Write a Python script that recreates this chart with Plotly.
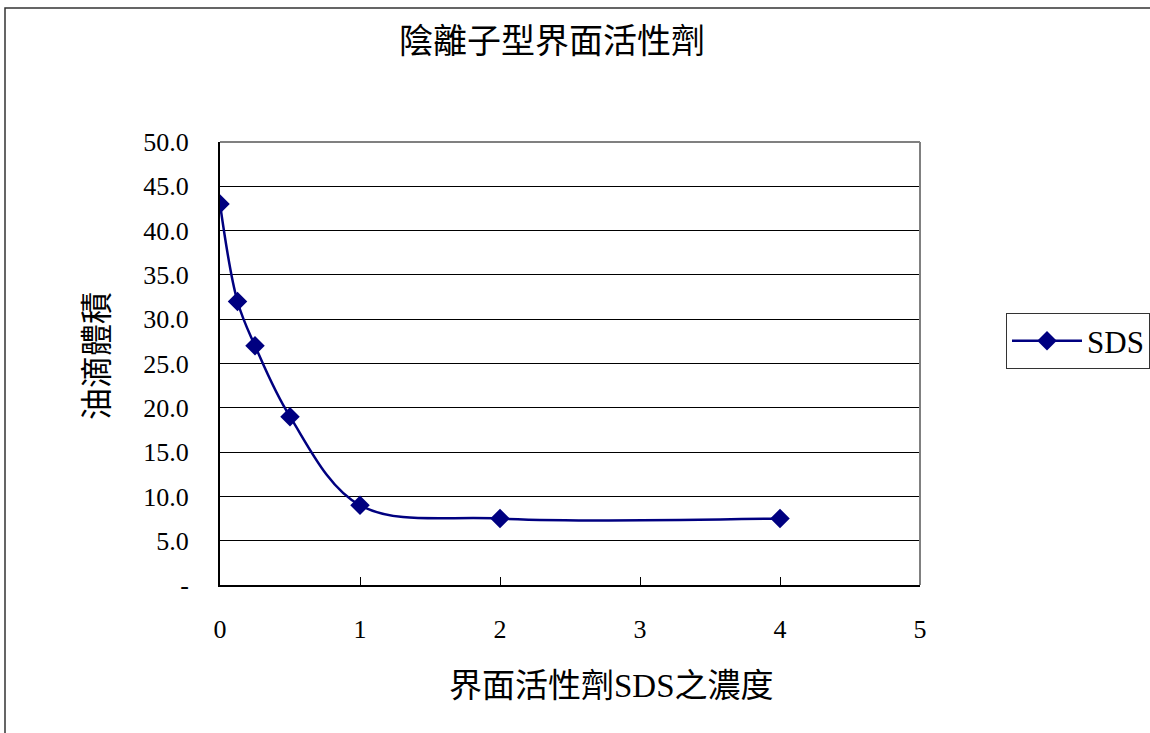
import plotly.graph_objects as go

# SDS concentration vs. oil droplet volume
concentration = [0, 0.125, 0.25, 0.5, 1, 2, 4]
droplet_volume = [43.0, 32.0, 27.0, 19.0, 9.0, 7.5, 7.5]
series_name = "SDS"

y_tick_values = [0, 5, 10, 15, 20, 25, 30, 35, 40, 45, 50]
y_tick_labels = ["-", "5.0", "10.0", "15.0", "20.0", "25.0", "30.0", "35.0", "40.0", "45.0", "50.0"]
x_tick_values = [0, 1, 2, 3, 4, 5]

title_text = "陰離子型界面活性劑"
x_title = "界面活性劑SDS之濃度"
y_title = "油滴體積"

FONT = "Liberation Serif, Times New Roman, Noto Sans CJK TC, serif"
NAVY = "#000080"

W, H = 1150, 733
L, R, T, B = 220, 230, 142, 148
PW, PH = W - L - R, H - T - B


def px_x(px):
    return (px - L) / PW


def px_y(py):
    return (H - B - py) / PH


fig = go.Figure()
fig.add_trace(go.Scatter(
    x=concentration, y=droplet_volume, name=series_name,
    mode="lines+markers",
    line=dict(color=NAVY, width=2.5, shape="spline", smoothing=1.0),
    marker=dict(symbol="diamond", size=15, color=NAVY),
))

fig.update_layout(
    width=W, height=H,
    margin=dict(l=L, r=R, t=T, b=B, autoexpand=False),
    paper_bgcolor="white", plot_bgcolor="white",
    font=dict(family=FONT, color="black", size=26),
    showlegend=True,
    legend=dict(
        x=px_x(1006), y=px_y(313), xanchor="left", yanchor="top",
        bordercolor="#333333", borderwidth=1, bgcolor="white",
        font=dict(size=31, family=FONT),
        itemwidth=70, tracegroupgap=0,
    ),
    xaxis=dict(
        range=[0, 5], tickmode="array", tickvals=x_tick_values,
        ticks="inside", ticklen=8, tickcolor="black",
        showgrid=False, zeroline=False,
        showline=True, linecolor="black", linewidth=2,
        tickfont=dict(size=26, family=FONT),
        ticklabelstandoff=20,
    ),
    yaxis=dict(
        range=[0, 50], tickmode="array", tickvals=y_tick_values, ticktext=y_tick_labels,
        ticks="", showgrid=True, gridcolor="black", gridwidth=1,
        zeroline=False, showline=True, linecolor="black", linewidth=2,
        tickfont=dict(size=26, family=FONT),
        ticklabelstandoff=24,
    ),
    shapes=[
        # plot area border (top and right drawn in gray)
        dict(type="line", xref="paper", yref="paper", x0=0, x1=1, y0=1, y1=1,
             line=dict(color="#808080", width=2)),
        dict(type="line", xref="paper", yref="paper", x0=1, x1=1, y0=0, y1=1,
             line=dict(color="#808080", width=2)),
        # chart area frame
        dict(type="rect", xref="paper", yref="paper",
             x0=px_x(5), x1=px_x(1170), y0=px_y(8), y1=px_y(760),
             line=dict(color="#333333", width=1.5), layer="below"),
    ],
    annotations=[
        dict(text=title_text, xref="paper", yref="paper", x=px_x(552), y=px_y(41),
             xanchor="center", yanchor="middle", showarrow=False,
             font=dict(size=34, family=FONT)),
        dict(text=x_title, xref="paper", yref="paper", x=px_x(611), y=px_y(686),
             xanchor="center", yanchor="middle", showarrow=False,
             font=dict(size=33, family=FONT)),
        dict(text=y_title, xref="paper", yref="paper", x=px_x(97), y=px_y(356),
             xanchor="center", yanchor="middle", showarrow=False, textangle=-90,
             font=dict(size=32, family=FONT)),
    ],
)

fig.write_html("out.html")
